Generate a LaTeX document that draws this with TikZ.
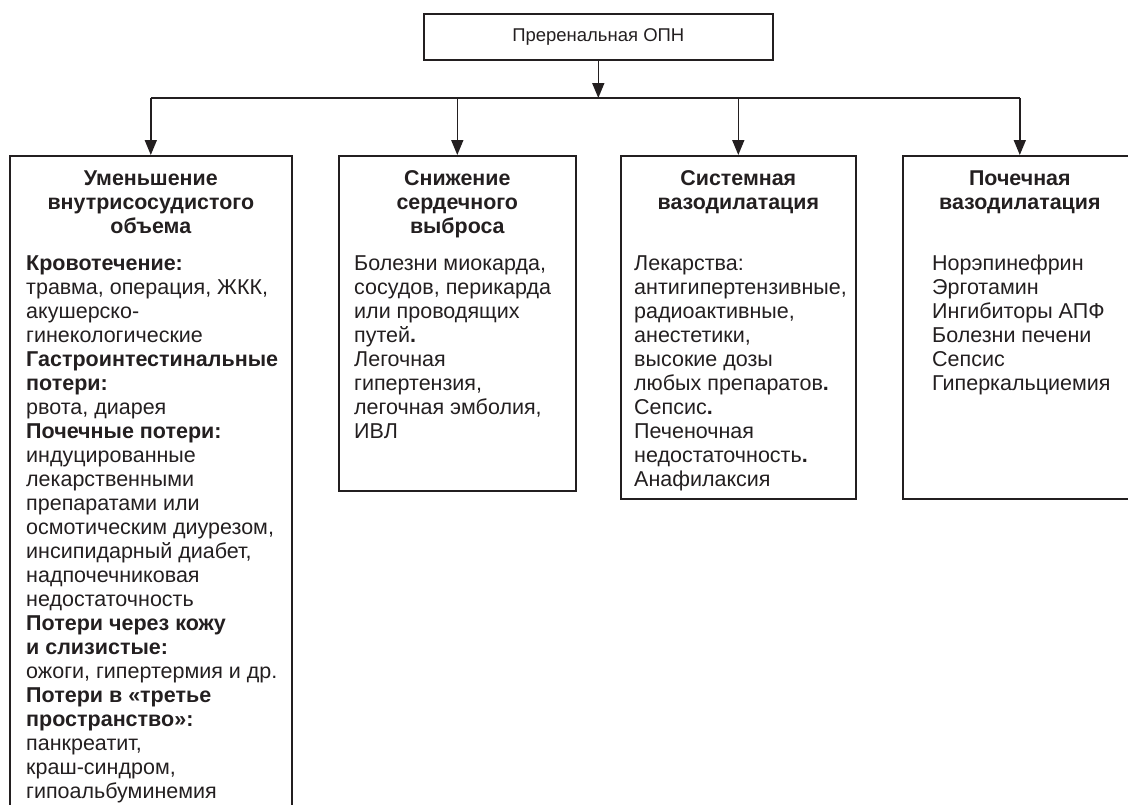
\documentclass[tikz,border=0pt]{standalone}
\usepackage{fontspec}
\setmainfont{Liberation Sans}
\usetikzlibrary{arrows.meta}
\definecolor{ink}{HTML}{231F20}
\tikzset{
  box/.style={draw=ink, line width=1.6pt, rectangle, inner sep=0pt, anchor=north west},
  head/.style={inner sep=0pt, anchor=north, align=center, text=ink, font=\fontsize{21.4}{24}\selectfont\bfseries},
  body/.style={inner sep=0pt, anchor=north west, align=left, text=ink, font=\fontsize{21.5}{24}\selectfont},
  conn/.style={draw=ink, line width=1.6pt},
  arr/.style={conn, -{Triangle[length=15pt,width=12pt]}}
}
\begin{document}
\begin{tikzpicture}[x=1pt,y=-1pt]
\useasboundingbox (0,0) rectangle (1128,804);
\clip (0,0) rectangle (1128,804);
% boxes
\node[box, minimum width=349pt, minimum height=46pt] (top) at (423,13) {};
\node[text=ink, font=\fontsize{18.5}{22}\selectfont, inner sep=0pt] (toptxt) at (top.center) {Преренальная ОПН};
\node[box, minimum width=282pt, minimum height=700pt] (b1) at (9,155) {};
\node[box, minimum width=237pt, minimum height=335pt] (b2) at (338,155) {};
\node[box, minimum width=235pt, minimum height=343pt] (b3) at (620,155) {};
\node[box, minimum width=234pt, minimum height=343pt] (b4) at (902,155) {};
% connectors
\coordinate (hm) at (top.south |- 0,98);
\coordinate (h1) at (b1.north |- 0,98);
\coordinate (h2) at (b2.north |- 0,98);
\coordinate (h3) at (b3.north |- 0,98);
\coordinate (h4) at (b4.north |- 0,98);
\draw[arr] (top.south) -- (hm);
\draw[conn] (h1) -- (h4);
\draw[arr] (h1) -- (b1.north);
\draw[arr] (h2) -- (b2.north);
\draw[arr] (h3) -- (b3.north);
\draw[arr] (h4) -- (b4.north);
% headings
\node[head] (t1) at (b1.north |- 0,168) {\strut Уменьшение\\внутрисосудистого\\объема};
\node[head] (t2) at (b2.north |- 0,168) {\strut Снижение\\сердечного\\выброса};
\node[head] (t3) at (b3.north |- 0,168) {\strut Системная\\вазодилатация};
\node[head] (t4) at (b4.north |- 0,168) {\strut Почечная\\вазодилатация};
% bodies
\node[body] (x1) at (26,253) {\strut\textbf{Кровотечение:}\\
травма, операция, ЖКК,\\
акушерско-\\
гинекологические\\
\textbf{Гастроинтестинальные}\\
\textbf{потери:}\\
рвота, диарея\\
\textbf{Почечные потери:}\\
индуцированные\\
лекарственными\\
препаратами или\\
осмотическим диурезом,\\
инсипидарный диабет,\\
надпочечниковая\\
недостаточность\\
\textbf{Потери через кожу}\\
\textbf{и слизистые:}\\
ожоги, гипертермия и др.\\
\textbf{Потери в «третье}\\
\textbf{пространство»:}\\
панкреатит,\\
краш-синдром,\\
гипоальбуминемия};
\node[body] (x2) at (354,253) {\strut Болезни миокарда,\\
сосудов, перикарда\\
или проводящих\\
путей\textbf{.}\\
Легочная\\
гипертензия,\\
легочная эмболия,\\
ИВЛ};
\node[body] (x3) at (634,253) {\strut Лекарства:\\
антигипертензивные,\\
радиоактивные,\\
анестетики,\\
высокие дозы\\
любых препаратов\textbf{.}\\
Сепсис\textbf{.}\\
Печеночная\\
недостаточность\textbf{.}\\
Анафилаксия};
\node[body] (x4) at (932,253) {\strut Норэпинефрин\\
Эрготамин\\
Ингибиторы АПФ\\
Болезни печени\\
Сепсис\\
Гиперкальциемия};
\end{tikzpicture}
\end{document}
